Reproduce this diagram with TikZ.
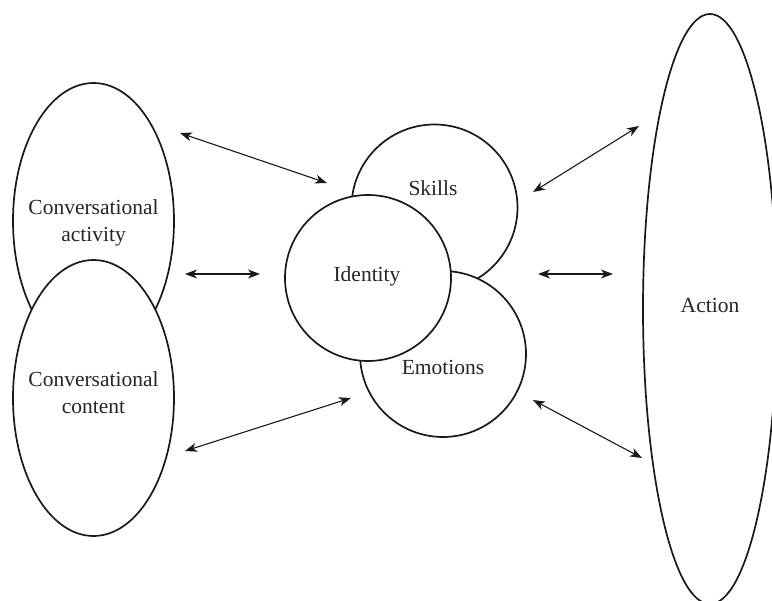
\documentclass[tikz,border=0pt]{standalone}
\usepackage{fontspec}
\setmainfont{Liberation Serif}
\usetikzlibrary{shapes.geometric,arrows.meta}
\begin{document}
\begin{tikzpicture}[x=1pt,y=-1pt,
  shape line/.style={draw=black!90, line width=1.7pt, fill=white, inner sep=0pt},
  oval/.style={shape line, ellipse},
  disc/.style={shape line, circle, minimum size=166pt},
  lbl/.style={font=\fontsize{21.5}{27}\selectfont, text=black!85, align=center},
  link/.style={draw=black!90, line width=1.1pt,
    {Stealth[length=12pt,width=9pt,inset=3.5pt]}-{Stealth[length=12pt,width=9pt,inset=3.5pt]}}
]
\useasboundingbox (0,0) rectangle (772,601);
\clip (0,0) rectangle (772,601);

% conversation ovals on the left
\node[oval, minimum width=161pt, minimum height=276pt] (activity) at (93.5,221) {};
\node[oval, minimum width=161pt, minimum height=276pt] (content) at (93.5,398) {};
\node[lbl] (activitytext) at (93.5,223) {Conversational\\activity};
\node[lbl] (contenttext) at (93.5,393) {Conversational\\content};

% overlapping circles in the middle
\node[disc] (skills) at (434.5,207.5) {};
\node[disc] (emotions) at (443,354) {};
\node[disc] (identity) at (368,278) {};
\node[lbl] (skillstext) at (433,188) {Skills};
\node[lbl] (emotionstext) at (443,367) {Emotions};
\node[lbl] (identitytext) at (367,276) {Identity};

% action oval on the right
\node[oval, minimum width=134pt, minimum height=590pt] (action) at (710,309) {};
\node[lbl] (actiontext) at (710,305) {Action};

% arrow end points
\coordinate (a1) at (180,133);
\coordinate (b1) at (327,183);
\coordinate (a2) at (185,274);
\coordinate (b2) at (260,274);
\coordinate (a3) at (185,451);
\coordinate (b3) at (351,398);
\coordinate (c1) at (533,192);
\coordinate (d1) at (639,126);
\coordinate (c2) at (538,274);
\coordinate (d2) at (613,274);
\coordinate (c3) at (533,400);
\coordinate (d3) at (642,458);

\draw[link] (a1) -- (b1);
\draw[link] (a2) -- (b2);
\draw[link] (a3) -- (b3);
\draw[link] (c1) -- (d1);
\draw[link] (c2) -- (d2);
\draw[link] (c3) -- (d3);
\end{tikzpicture}
\end{document}
